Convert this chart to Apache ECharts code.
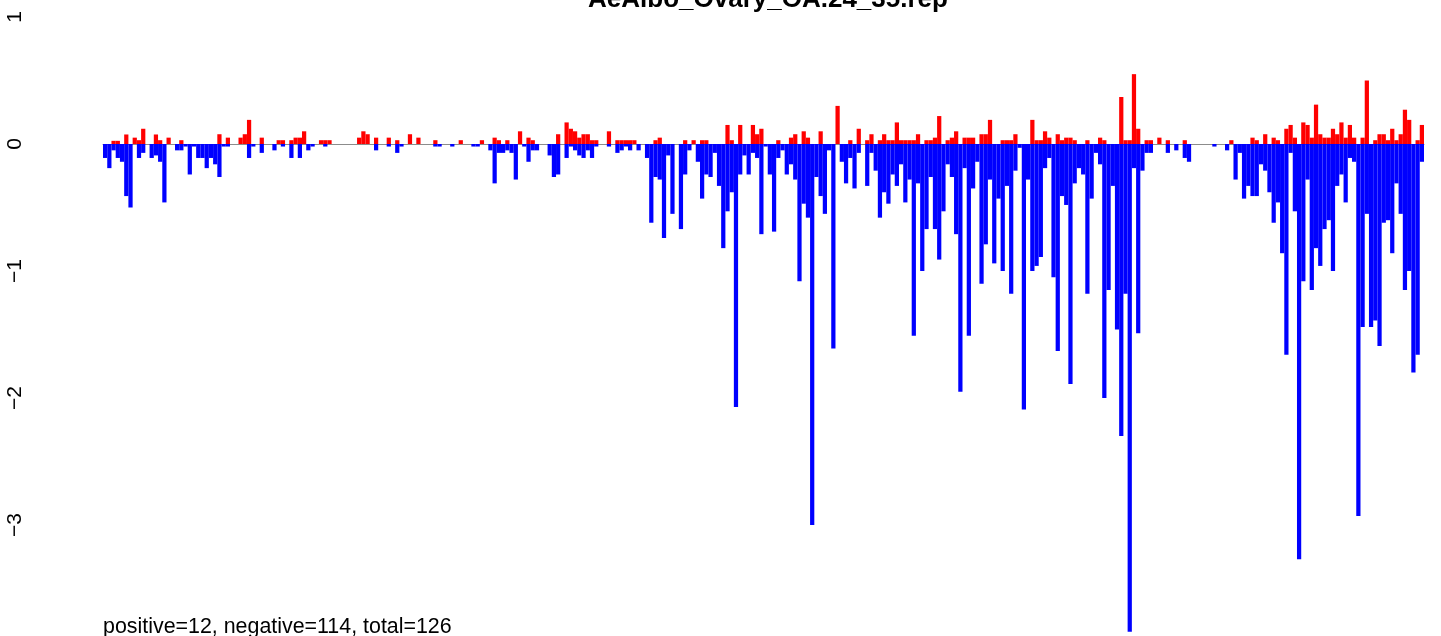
<!DOCTYPE html>
<html>
    <head>
        <meta charset="utf-8">
        <script src="https://cdn.jsdelivr.net/npm/echarts@6/dist/echarts.min.js"></script>
        <style>
            html, body { margin: 0; padding: 0; background: #fff; }
        </style>
    </head>
    <body>
        <div id="main" style="width: 1441px;height:636px;"></div>
        <script type="text/javascript">
            var chartTitle = 'AeAlbo_Ovary_OA.24_35.rep';
            var footNote = 'positive=12, negative=114, total=126';
            var yTicks = [-4, -3, -2, -1, 0, 1];

            // negative part of each position (blue)
            var negVals = [
                -0.11,-0.19,-0.05,-0.11,-0.14,-0.41,-0.50,0,-0.11,-0.07,
                0,-0.11,-0.09,-0.14,-0.46,0,0,-0.05,-0.05,-0.02,
                -0.24,-0.02,-0.11,-0.11,-0.19,-0.11,-0.16,-0.26,-0.02,-0.02,
                0,0,0,0,-0.11,-0.02,0,-0.07,0,0,
                -0.05,0,-0.02,0,-0.11,0,-0.11,0,-0.05,-0.02,
                0,0,-0.02,0,0,0,0,0,0,0,
                0,0,0,0,-0.05,0,0,-0.02,0,-0.07,
                -0.02,0,0,0,0,0,0,0,-0.02,-0.02,
                0,0,-0.02,0,0,0,0,-0.02,-0.02,0,
                0,-0.05,-0.31,-0.07,-0.07,-0.05,-0.07,-0.28,0,-0.02,
                -0.14,-0.05,-0.05,0,0,-0.09,-0.26,-0.24,0,-0.11,
                -0.02,-0.05,-0.09,-0.11,-0.05,-0.11,-0.02,0,0,-0.02,
                0,-0.07,-0.05,-0.02,-0.05,0,-0.05,0,-0.11,-0.62,
                -0.26,-0.28,-0.74,-0.09,-0.55,0,-0.67,-0.24,-0.05,0,
                -0.14,-0.43,-0.24,-0.26,-0.07,-0.33,-0.82,-0.53,-0.38,-2.07,
                -0.24,-0.09,-0.24,-0.07,-0.11,-0.71,-0.02,-0.24,-0.69,-0.11,
                -0.05,-0.24,-0.16,-0.28,-1.08,-0.47,-0.58,-3.00,-0.26,-0.41,
                -0.55,-0.05,-1.61,0,-0.14,-0.31,-0.11,-0.35,-0.07,0,
                -0.33,-0.07,-0.21,-0.58,-0.38,-0.47,-0.24,-0.33,-0.16,-0.46,
                -0.28,-1.51,-0.31,-1.00,-0.67,-0.26,-0.67,-0.91,-0.53,-0.16,
                -0.26,-0.71,-1.95,-0.19,-1.51,-0.35,-0.14,-1.10,-0.79,-0.28,
                -0.94,-0.43,-1.00,-0.33,-1.18,-0.21,-0.03,-2.09,-0.28,-1.00,
                -0.96,-0.89,-0.19,-0.11,-1.05,-1.63,-0.41,-0.48,-1.89,-0.31,
                -0.19,-0.24,-1.18,-0.43,-0.07,-0.16,-2.00,-1.15,-0.33,-1.46,
                -2.30,-1.18,-3.84,-0.19,-1.49,-0.21,-0.07,-0.07,0,0,
                0,-0.07,0,-0.05,0,-0.11,-0.14,0,0,0,
                0,0,-0.02,0,0,-0.05,0,-0.28,-0.07,-0.43,
                -0.33,-0.41,-0.41,-0.16,-0.21,-0.38,-0.62,-0.46,-0.86,-1.66,
                -0.07,-0.53,-3.27,-1.08,-0.28,-1.15,-0.82,-0.96,-0.67,-0.60,
                -1.00,-0.33,-0.24,-0.46,-0.11,-0.14,-2.93,-1.44,-0.55,-1.44,
                -1.39,-1.59,-0.62,-0.60,-0.86,-0.31,-0.55,-1.15,-1.00,-1.80,
                -1.66,-0.14
            ];

            // positive part of each position (red)
            var posVals = [
                0,0,0.025,0.025,0,0.075,0,0.05,0.03,0.12,
                0,0,0.075,0.03,0,0.05,0,0,0.03,0,
                0,0,0,0,0,0,0,0.077,0,0.05,
                0,0,0.05,0.077,0.19,0,0,0.05,0,0,
                0,0.03,0.03,0,0.03,0.05,0.05,0.1,0,0,
                0,0.03,0.03,0.03,0,0,0,0,0,0,
                0.05,0.1,0.077,0,0.05,0,0,0.05,0,0.03,
                0,0,0.077,0,0.05,0,0,0,0.03,0,
                0,0,0,0,0.03,0,0,0,0,0.03,
                0,0,0.05,0.03,0,0.03,0,0,0.1,0,
                0.05,0.03,0,0,0,0,0,0.077,0,0.17,
                0.12,0.1,0.05,0.077,0.077,0.03,0.03,0,0,0.1,
                0,0.03,0.03,0.03,0.03,0.03,0,0,0,0,
                0.03,0.05,0,0,0,0,0,0.03,0,0.03,
                0,0.03,0.03,0,0,0,0,0.15,0.03,0,
                0.15,0,0,0.15,0.077,0.12,0,0,0,0.03,
                0,0,0.05,0.077,0,0.1,0.05,0,0,0.1,
                0,0,0,0.3,0,0,0.03,0,0.12,0,
                0.03,0.077,0,0.03,0.077,0.03,0.03,0.17,0.03,0.03,
                0.03,0.03,0.077,0,0.03,0.03,0.05,0.22,0,0.03,
                0.05,0.1,0,0.05,0.05,0.05,0,0.077,0.077,0.19,
                0,0,0.03,0.03,0.03,0.077,0,0,0,0.19,
                0.03,0.03,0.1,0.05,0,0.077,0.03,0.05,0.05,0.03,
                0,0,0.03,0,0,0.05,0.03,0,0,0,
                0.37,0.03,0.03,0.55,0.12,0,0.03,0.03,0,0.05,
                0,0.03,0,0,0,0.03,0,0,0,0,
                0,0,0,0,0,0,0.03,0,0,0,
                0,0.05,0.03,0,0.077,0,0.05,0.03,0,0.12,
                0.15,0.05,0,0.17,0.15,0.05,0.31,0.077,0.05,0.05,
                0.12,0.077,0.17,0.05,0.15,0.05,0,0.05,0.5,0,
                0.03,0.077,0.077,0.03,0.12,0.03,0.077,0.27,0.19,0,
                0.03,0.15
            ];

            var positions = negVals.map(function (v, i) { return String(i + 1); });

            var font = '"Liberation Sans", Arial, Helvetica, sans-serif';
            var myChart = echarts.init(document.getElementById('main'), null, { renderer: 'canvas' });

            var option = {
                animation: false,
                backgroundColor: '#ffffff',
                textStyle: { fontFamily: font },
                // 127px per unit, y = 1 sits at 17px, y = -4 falls below the canvas
                grid: { left: 103, right: 17, top: 17, height: 635, containLabel: false, outerBoundsMode: 'none' },
                xAxis: {
                    type: 'category',
                    data: positions,
                    boundaryGap: true,
                    axisLine: { show: true, onZero: true, lineStyle: { color: '#8c8c8c', width: 1 } },
                    axisTick: { show: false },
                    axisLabel: { show: false },
                    splitLine: { show: false }
                },
                yAxis: {
                    type: 'value',
                    min: yTicks[0],
                    max: yTicks[yTicks.length - 1],
                    interval: 1,
                    axisLine: { show: false },
                    axisTick: { show: false },
                    splitLine: { show: false },
                    axisLabel: {
                        rotate: 90,
                        margin: 77,
                        color: '#000',
                        fontSize: 21,
                        fontFamily: font,
                        formatter: function (v) { return String(v).replace('-', '\u2212'); }
                    }
                },
                series: [
                    {
                        name: 'negative',
                        type: 'bar',
                        data: negVals,
                        barCategoryGap: '0%',
                        barGap: '-100%',
                        itemStyle: { color: '#0000ff' },
                        large: false
                    },
                    {
                        name: 'positive',
                        type: 'bar',
                        data: posVals,
                        barCategoryGap: '0%',
                        barGap: '-100%',
                        itemStyle: { color: '#ff0000' }
                    }
                ],
                graphic: [
                    {
                        type: 'text',
                        x: 768,
                        y: 0,
                        style: {
                            text: chartTitle,
                            fontFamily: font,
                            fontSize: 26,
                            fontWeight: 'bold',
                            fill: '#000',
                            textAlign: 'center',
                            textVerticalAlign: 'middle'
                        }
                    },
                    {
                        type: 'text',
                        x: 103,
                        y: 627,
                        style: {
                            text: footNote,
                            fontFamily: font,
                            fontSize: 21.4,
                            fill: '#000',
                            textAlign: 'left',
                            textVerticalAlign: 'middle'
                        }
                    }
                ]
            };

            myChart.setOption(option);
        </script>
    </body>
</html>
